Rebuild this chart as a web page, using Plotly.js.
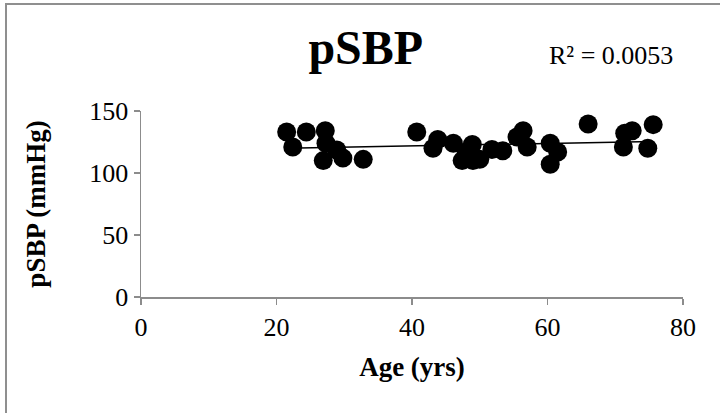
<!DOCTYPE html>
<html>
<head>
<meta charset="utf-8">
<script src="https://cdn.plot.ly/plotly-3.0.1.min.js"></script>
<style>
  html, body { margin: 0; padding: 0; background: #fff; }
  #wrap { position: relative; width: 720px; height: 413px; overflow: hidden; }
  #chart { width: 720px; height: 413px; }
  #frame { position: absolute; left: 5px; top: 3px; width: 900px; height: 600px;
           border-left: 2px solid #8f8f8f; border-top: 2px solid #8f8f8f; pointer-events: none; }
</style>
</head>
<body>
<div id="wrap">
  <div id="chart"></div>
  <div id="frame"></div>
</div>
<script>
// Age (yrs)
const age = [21.5, 24.4, 22.4, 27.2, 27.3, 28.9, 26.9, 29.8, 32.8,
             40.7, 43.8, 43.1, 46.1, 47.4, 48.9, 49.0, 48.0, 50.0, 51.8, 53.4,
             56.4, 55.5, 57.0, 60.4, 61.5, 60.4, 66.0, 71.4, 72.5, 71.2, 75.6, 74.8];
// pSBP (mmHg)
const psbp = [133, 133, 121, 134, 124, 118.5, 110, 112, 111,
              133, 127, 120, 124, 110, 123, 110, 117, 111, 119, 118,
              134, 129, 121, 124, 117, 107, 139.5, 132, 134, 121, 139, 120];
const titleText = "pSBP";
const r2Text = "R² = 0.0053";
const xTicks = [0, 20, 40, 60, 80];
const yTicks = [0, 50, 100, 150];

// Linear trendline from the data
const n = age.length;
const mx = age.reduce((a, b) => a + b, 0) / n;
const my = psbp.reduce((a, b) => a + b, 0) / n;
let sxy = 0, sxx = 0;
for (let i = 0; i < n; i++) { sxy += (age[i] - mx) * (psbp[i] - my); sxx += (age[i] - mx) ** 2; }
const slope = sxy / sxx, intercept = my - slope * mx;
const xmin = Math.min(...age), xmax = Math.max(...age);
const trendX = [xmin, xmax];
const trendY = trendX.map(x => intercept + slope * x);

const font = "'Liberation Serif', 'Times New Roman', serif";

const data = [
  { x: age, y: psbp, type: 'scatter', mode: 'markers',
    marker: { color: '#000', size: 19, line: { width: 0 } }, showlegend: false, hoverinfo: 'skip' },
  { x: trendX, y: trendY, type: 'scatter', mode: 'lines',
    line: { color: '#000', width: 1.5 }, showlegend: false, hoverinfo: 'skip' }
];

const layout = {
  width: 720, height: 413,
  margin: { l: 141, r: 37, t: 111, b: 116 },
  paper_bgcolor: '#fff', plot_bgcolor: '#fff',
  font: { family: font, color: '#000', size: 26 },
  title: { text: '<b>' + titleText + '</b>', x: 0.508, xref: 'container', xanchor: 'center',
           y: 0.885, yref: 'container', yanchor: 'middle',
           font: { family: font, size: 48, color: '#000' } },
  xaxis: {
    range: [0, 80], tickvals: xTicks, ticktext: xTicks.map(String),
    showgrid: false, zeroline: false, showline: true, linecolor: '#8c8c8c', linewidth: 1.5,
    ticks: 'outside', ticklen: 6, tickcolor: '#8c8c8c', tickwidth: 1.5,
    tickfont: { family: font, size: 26, color: '#000' },
    title: { text: '<b>Age (yrs)</b>', font: { family: font, size: 27, color: '#000' }, standoff: 16 }
  },
  yaxis: {
    range: [0, 150], tickvals: yTicks, ticktext: yTicks.map(String),
    showgrid: false, zeroline: false, showline: true, linecolor: '#8c8c8c', linewidth: 1.5,
    ticks: 'outside', ticklen: 6, tickcolor: '#8c8c8c', tickwidth: 1.5,
    tickfont: { family: font, size: 26, color: '#000' },
    title: { text: '<b>pSBP (mmHg)</b>', font: { family: font, size: 27, color: '#000' }, standoff: 36 }
  },
  annotations: [
    { text: r2Text, xref: 'paper', yref: 'paper', x: 0.985, y: 1.298, xanchor: 'right', yanchor: 'middle',
      showarrow: false, font: { family: font, size: 26, color: '#000' } }
  ]
};

Plotly.newPlot('chart', data, layout, { staticPlot: true, displayModeBar: false });
</script>
</body>
</html>
